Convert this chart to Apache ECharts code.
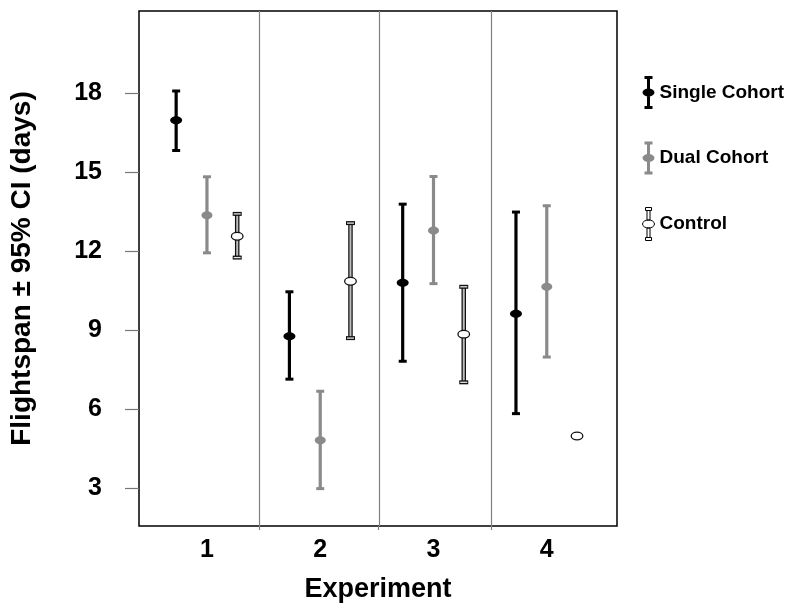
<!DOCTYPE html>
<html>
<head>
<meta charset="utf-8">
<script src="https://cdn.jsdelivr.net/npm/echarts@6/dist/echarts.min.js"></script>
<style>
  html, body { margin: 0; padding: 0; background: #fff; }
  #chart { width: 800px; height: 611px; }
</style>
</head>
<body>
<div id="chart"></div>
<script>
// data
const experiments = [1, 2, 3, 4];
const yTicks = [3, 6, 9, 12, 15, 18];
const separators = [1.46, 2.515, 3.51];

const singleMean = [16.98, 8.77, 10.80, 9.63];
const singleLow = [15.83, 7.14, 7.82, 5.83];
const singleHigh = [18.09, 10.46, 13.79, 13.49];

const dualMean = [13.37, 4.82, 12.79, 10.65];
const dualLow = [11.94, 2.98, 10.77, 7.98];
const dualHigh = [14.83, 6.68, 14.84, 13.73];

const controlMean = [12.57, 10.86, 8.85, 4.98];
const controlLow = [11.76, 8.70, 7.02, null];
const controlHigh = [13.42, 13.07, 10.65, null];

// horizontal dodge of each group inside an experiment
const dodge = { single: -0.272, dual: 0, control: 0.267 };

const FONT = '"Liberation Sans", Arial, Helvetica, sans-serif';
const GRAY = '#8a8a8a';

const build = (mean, low, high, off) =>
  experiments.map((e, i) => [e + off, mean[i], low[i] == null ? NaN : low[i], high[i] == null ? NaN : high[i]]);

// error bar drawing
const makeRender = (kind) => (params, api) => {
  const x = api.value(0);
  const m = api.coord([x, api.value(1)]);
  const lo = api.value(2), hi = api.value(3);
  const children = [];
  const hasBar = !isNaN(lo) && !isNaN(hi);
  let pLo, pHi;
  if (hasBar) {
    pLo = api.coord([x, lo]);
    pHi = api.coord([x, hi]);
  }
  if (kind === 'control') {
    if (hasBar) {
      children.push({ type: 'line', shape: { x1: m[0], y1: pHi[1], x2: m[0], y2: pLo[1] }, style: { stroke: '#111', lineWidth: 4.5 } });
      children.push({ type: 'line', shape: { x1: m[0], y1: pHi[1], x2: m[0], y2: pLo[1] }, style: { stroke: '#bdbdbd', lineWidth: 2 } });
      [pHi[1], pLo[1]].forEach(y => {
        children.push({ type: 'line', shape: { x1: m[0] - 4.5, y1: y, x2: m[0] + 4.5, y2: y }, style: { stroke: '#111', lineWidth: 4 } });
        children.push({ type: 'line', shape: { x1: m[0] - 3.5, y1: y, x2: m[0] + 3.5, y2: y }, style: { stroke: '#e6e6e6', lineWidth: 1.3 } });
      });
    }
    children.push({ type: 'ellipse', shape: { cx: m[0], cy: m[1], rx: 5.8, ry: 3.8 }, style: { fill: '#fff', stroke: '#111', lineWidth: 1.3 } });
  } else {
    const c = kind === 'single' ? '#000' : GRAY;
    if (hasBar) {
      children.push({ type: 'line', shape: { x1: m[0], y1: pHi[1], x2: m[0], y2: pLo[1] }, style: { stroke: c, lineWidth: 3.2 } });
      [pHi[1], pLo[1]].forEach(y => {
        children.push({ type: 'line', shape: { x1: m[0] - 4, y1: y, x2: m[0] + 4, y2: y }, style: { stroke: c, lineWidth: 3 } });
      });
    }
    children.push({ type: 'ellipse', shape: { cx: m[0], cy: m[1], rx: kind === 'single' ? 6 : 5.5, ry: 4 }, style: { fill: c } });
  }
  return { type: 'group', children };
};

const iconSolid = 'path://M2,0H10V3H2Z M4.5,3H7.5V30H4.5Z M2,30H10V33H2Z M0,16.5A6,4 0 1,1 12,16.5A6,4 0 1,1 0,16.5Z';
const iconOpen = 'path://M3,0H9V3H3Z M4.5,3H7.5V12.5H4.5Z M0,16.5A6,4 0 1,1 12,16.5A6,4 0 1,1 0,16.5Z M4.5,20.5H7.5V30H4.5Z M3,30H9V33H3Z';

const chart = echarts.init(document.getElementById('chart'));
chart.setOption({
  animation: false,
  backgroundColor: '#fff',
  textStyle: { fontFamily: FONT },
  grid: {
    left: 137, right: 183, top: 11, bottom: 85,
    show: true, borderColor: '#000', borderWidth: 1.5, backgroundColor: 'transparent'
  },
  legend: {
    orient: 'vertical',
    left: 637,
    top: 71,
    itemWidth: 12,
    itemHeight: 33,
    itemGap: 32.5,
    selectedMode: false,
    textStyle: { fontFamily: FONT, fontWeight: 'bold', fontSize: 19, color: '#000' },
    data: [
      { name: 'Single Cohort', icon: iconSolid, itemStyle: { color: '#000' } },
      { name: 'Dual Cohort', icon: iconSolid, itemStyle: { color: GRAY } },
      { name: 'Control', icon: iconOpen, itemStyle: { color: '#fff', borderColor: '#000', borderWidth: 1 } }
    ]
  },
  xAxis: {
    type: 'value',
    min: 0.4,
    max: 4.62,
    name: 'Experiment',
    nameLocation: 'middle',
    nameGap: 50,
    nameTextStyle: { fontFamily: FONT, fontWeight: 'bold', fontSize: 27, color: '#000' },
    axisLine: { show: false },
    splitLine: { show: false },
    axisTick: { show: true, customValues: separators, length: 4, lineStyle: { color: '#808080', width: 1.2 } },
    axisLabel: { customValues: experiments, margin: 12, fontFamily: FONT, fontWeight: 'bold', fontSize: 25, color: '#000' }
  },
  yAxis: {
    type: 'value',
    min: 1.56,
    max: 21.13,
    name: 'Flightspan ± 95% CI (days)',
    nameLocation: 'middle',
    nameGap: 103,
    nameTextStyle: { fontFamily: FONT, fontWeight: 'bold', fontSize: 28, color: '#000' },
    axisLine: { show: false },
    splitLine: { show: false },
    axisTick: { show: true, customValues: yTicks, length: 14, lineStyle: { color: '#777', width: 1.2 } },
    axisLabel: { customValues: yTicks, margin: 37, fontFamily: FONT, fontWeight: 'bold', fontSize: 25, color: '#000' }
  },
  series: [
    {
      type: 'line',
      name: 'separators',
      data: [],
      silent: true,
      markLine: {
        silent: true,
        symbol: 'none',
        label: { show: false },
        lineStyle: { color: '#808080', width: 1.2, type: 'solid' },
        data: separators.map(v => ({ xAxis: v }))
      }
    },
    {
      type: 'custom',
      name: 'Single Cohort',
      itemStyle: { color: '#000' },
      renderItem: makeRender('single'),
      encode: { x: 0, y: 1 },
      data: build(singleMean, singleLow, singleHigh, dodge.single)
    },
    {
      type: 'custom',
      name: 'Dual Cohort',
      itemStyle: { color: GRAY },
      renderItem: makeRender('dual'),
      encode: { x: 0, y: 1 },
      data: build(dualMean, dualLow, dualHigh, dodge.dual)
    },
    {
      type: 'custom',
      name: 'Control',
      itemStyle: { color: '#fff' },
      renderItem: makeRender('control'),
      encode: { x: 0, y: 1 },
      data: build(controlMean, controlLow, controlHigh, dodge.control)
    }
  ]
});
</script>
</body>
</html>
